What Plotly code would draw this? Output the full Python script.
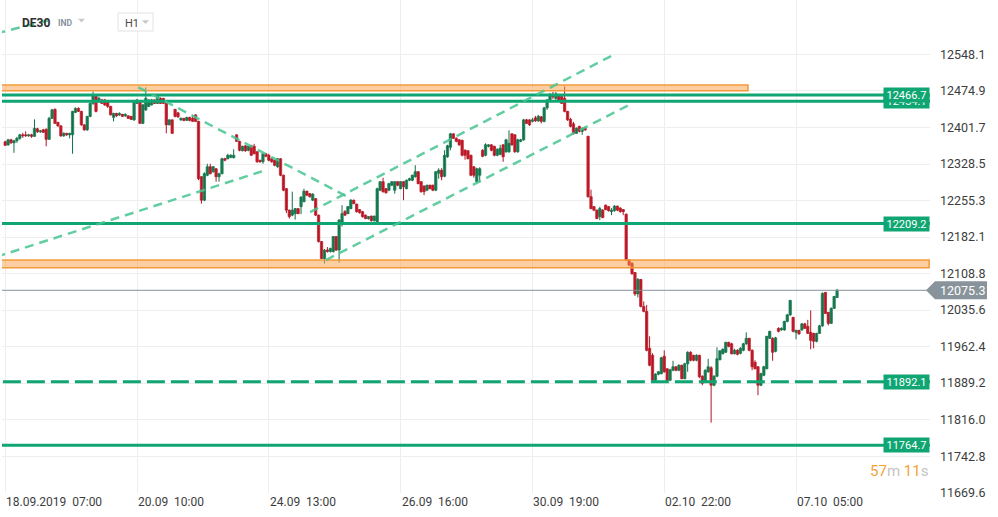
import plotly.graph_objects as go

# ---------------- data (hourly DE30 candles) ----------------
opens = [
12373,12367,12377,12371,12375,12380,12387,12387,12385,12387,
12384,12399,12393,12397,12398,12378,12420,12438,12412,12405,
12385,12390,12387,12387,12432,12440,12434,12407,12397,12424,
12450,12465,12454,12457,12457,12454,12444,12422,12430,12427,
12428,12425,12425,12424,12417,12450,12454,12410,12437,12444,
12447,12457,12450,12460,12460,12450,12407,12417,12438,12431,
12417,12420,12416,12422,12420,12427,12414,12303,12256,12306,
12323,12313,12319,12303,12309,12339,12339,12342,12341,12387,
12374,12355,12365,12356,12365,12364,12353,12336,12333,12349,
12346,12339,12336,12323,12339,12306,12279,12236,12226,12229,
12239,12243,12253,12274,12269,12256,12259,12226,12173,12139,
12156,12153,12153,12183,12156,12212,12233,12229,12239,12256,
12248,12237,12233,12226,12219,12224,12215,12213,12276,12293,
12279,12276,12286,12276,12293,12279,12293,12279,12296,12296,
12303,12313,12293,12284,12276,12286,12286,12276,12310,12316,
12304,12343,12362,12389,12380,12377,12376,12356,12355,12346,
12323,12293,12306,12356,12346,12364,12367,12364,12346,12348,
12367,12353,12353,12389,12387,12353,12374,12377,12417,12417,
12414,12421,12415,12423,12414,12441,12457,12467,12460,12467,
12464,12460,12434,12418,12409,12390,12404,12394,12400,12384,
12263,12243,12236,12223,12236,12246,12243,12233,12235,12244,
12240,12237,12228,12136,12129,12111,12068,12097,12043,12033,
11959,11945,11895,11907,11908,11943,11918,11895,11915,11922,
11915,11925,11898,11928,11951,11945,11935,11945,11903,11892,
11912,11920,11885,11903,11936,11948,11951,11971,11968,11948,
11955,11949,11955,11968,11979,11955,11931,11922,11885,11905,
11918,11979,11979,11953,11999,11996,11996,12013,12026,12021,
11991,11995,11996,12008,12003,11991,11989,11973,11989,12004,
12071,12031,12009,12039,12061]

highs = [
12375,12379,12379,12377,12383,12389,12391,12394,12389,12389,
12418,12401,12397,12399,12400,12423,12439,12440,12413,12406,
12392,12391,12391,12435,12442,12442,12435,12408,12425,12452,
12474,12466,12463,12459,12459,12455,12445,12431,12431,12432,
12429,12430,12426,12425,12455,12459,12455,12449,12482,12458,
12459,12458,12466,12462,12461,12451,12418,12418,12439,12433,
12422,12421,12423,12423,12426,12428,12415,12304,12312,12329,
12329,12324,12320,12311,12341,12341,12349,12348,12358,12388,
12375,12365,12366,12365,12367,12369,12354,12337,12350,12350,
12349,12340,12337,12340,12340,12307,12280,12237,12273,12240,
12240,12264,12279,12275,12270,12270,12260,12227,12174,12158,
12162,12161,12184,12184,12218,12246,12236,12244,12258,12257,
12249,12238,12234,12227,12224,12225,12225,12281,12294,12301,
12280,12291,12294,12294,12294,12294,12294,12297,12301,12307,
12326,12314,12294,12286,12287,12287,12287,12314,12320,12320,
12356,12367,12391,12390,12382,12378,12377,12358,12356,12347,
12324,12321,12322,12358,12370,12368,12368,12365,12360,12367,
12368,12379,12396,12390,12388,12379,12379,12419,12419,12418,
12421,12425,12427,12425,12443,12459,12471,12473,12473,12469,
12467,12484,12435,12421,12413,12402,12405,12402,12403,12385,
12277,12244,12237,12243,12238,12247,12244,12240,12246,12245,
12242,12238,12229,12138,12132,12112,12100,12098,12053,12046,
11983,11949,11909,11913,11942,11955,11919,11918,11934,11923,
11927,11926,11930,11953,11953,11946,11947,11946,11905,11917,
11938,11923,11905,11961,11955,11959,11972,11972,11970,11958,
11957,11961,11970,11991,11980,11957,11935,11923,11910,11924,
11984,11994,11981,11982,12001,12001,12014,12028,12056,12022,
11996,11996,12010,12010,12016,12035,11990,11990,12006,12071,
12072,12032,12041,12064,12078]

lows = [
12365,12365,12369,12351,12371,12377,12381,12383,12383,12381,
12383,12391,12391,12391,12364,12377,12419,12409,12403,12383,
12383,12385,12380,12349,12431,12433,12405,12395,12395,12422,
12447,12432,12451,12449,12445,12441,12426,12414,12423,12425,
12423,12423,12419,12417,12415,12449,12409,12409,12435,12443,
12446,12449,12449,12449,12449,12390,12406,12389,12422,12421,
12415,12414,12415,12414,12413,12413,12296,12249,12254,12304,
12308,12311,12293,12293,12308,12334,12338,12340,12340,12373,
12354,12354,12353,12354,12345,12348,12331,12331,12329,12342,
12334,12331,12324,12321,12304,12274,12230,12219,12224,12217,
12228,12228,12252,12264,12261,12254,12224,12171,12138,12129,
12151,12151,12151,12154,12131,12203,12224,12228,12238,12248,
12231,12229,12221,12218,12217,12213,12213,12211,12274,12271,
12269,12274,12284,12269,12284,12278,12256,12278,12294,12294,
12301,12288,12271,12266,12274,12278,12274,12274,12299,12296,
12302,12341,12356,12379,12372,12365,12344,12337,12338,12304,
12301,12291,12292,12342,12344,12362,12354,12344,12344,12346,
12333,12351,12351,12365,12351,12351,12372,12375,12409,12405,
12412,12413,12413,12410,12412,12437,12455,12459,12457,12455,
12449,12432,12415,12402,12387,12389,12392,12387,12395,12261,
12238,12234,12218,12216,12220,12236,12233,12226,12233,12234,
12231,12226,12134,12124,12106,12064,12061,12041,12031,11953,
11923,11893,11893,11905,11907,11910,11892,11893,11913,11913,
11913,11897,11897,11912,11933,11933,11933,11899,11885,11890,
11910,11810,11883,11901,11935,11947,11950,11961,11947,11947,
11945,11947,11953,11966,11953,11915,11917,11865,11883,11903,
11917,11978,11934,11951,11991,11994,11994,12011,12024,11991,
11977,11986,11994,11998,11988,11957,11959,11971,11988,12002,
12028,12005,12008,12038,12060]

closes = [
12366,12377,12371,12375,12380,12387,12385,12385,12387,12384,
12400,12393,12395,12392,12378,12420,12437,12410,12405,12385,
12390,12387,12390,12434,12440,12434,12407,12397,12424,12450,
12465,12434,12460,12450,12447,12444,12427,12430,12425,12430,
12424,12428,12420,12418,12454,12457,12410,12447,12460,12457,
12457,12450,12465,12450,12450,12407,12417,12390,12424,12423,
12420,12416,12422,12416,12414,12414,12299,12256,12309,12323,
12309,12323,12303,12309,12339,12336,12346,12346,12346,12374,
12356,12364,12355,12364,12346,12349,12333,12333,12349,12344,
12336,12333,12326,12339,12306,12276,12236,12223,12236,12239,
12229,12262,12274,12266,12263,12268,12226,12173,12139,12156,
12153,12159,12183,12156,12216,12229,12226,12243,12256,12249,
12233,12231,12223,12219,12223,12215,12224,12279,12293,12273,
12271,12289,12293,12293,12286,12293,12283,12296,12299,12306,
12313,12289,12273,12273,12286,12279,12276,12313,12316,12303,
12346,12365,12389,12380,12374,12367,12346,12346,12339,12306,
12306,12319,12319,12344,12367,12367,12356,12346,12358,12360,
12343,12377,12370,12367,12353,12377,12377,12417,12410,12407,
12417,12415,12424,12414,12441,12457,12467,12463,12469,12457,
12450,12434,12417,12404,12390,12400,12394,12400,12397,12263,
12239,12236,12219,12239,12221,12237,12235,12236,12244,12236,
12233,12233,12136,12126,12109,12068,12097,12043,12033,11955,
11925,11895,11907,11912,11940,11912,11894,11916,11922,11915,
11925,11898,11928,11951,11935,11935,11945,11902,11889,11915,
11922,11885,11903,11938,11954,11957,11971,11963,11948,11955,
11947,11959,11968,11979,11955,11922,11918,11885,11908,11922,
11983,11993,11951,11980,11993,11999,12013,12026,12055,11993,
11995,11988,12008,11999,11989,11975,11973,11989,12004,12069,
12029,12009,12039,12063,12075.3]

x_tick_pos = [0, 45, 90, 135, 180, 225, 270]
x_tick_labels = ["18.09.2019", "20.09", "24.09", "26.09", "30.09", "02.10", "07.10"]
x_tick_times = ["07:00", "10:00", "13:00", "16:00", "19:00", "22:00", "05:00"]
y_tick_vals = [12548.1, 12474.9, 12401.7, 12328.5, 12255.3, 12182.1, 12108.8,
               12035.6, 11962.4, 11889.2, 11816.0, 11742.8, 11669.6]

solid_levels = [12454.1, 12466.7, 12209.2, 11764.7]
dashed_levels = [11892.1]
zone_upper = [12475.5, 12487.0]
zone_upper_end = 253.6
zone_lower = [12120.6, 12136.0]
last_price = 12075.3

trend_lines = [
    [(45.44, 12482.3), (116.7, 12263.3)],
    [(-3.0, 12142.4), (88.0, 12314.4)],
    [(104.1, 12232.2), (208.2, 12549.0)],
    [(109.5, 12136.0), (214.3, 12450.8)],
    [(-3.0, 12590.3), (14.6, 12616.2)],
]

# ---------------- figure ----------------
W, H = 998, 517
ML, MR, MT, MB = 2, 68, 0, 24
PW, PH = W - ML - MR, H - MT - MB
X_RANGE = [-1.09, 315.73]
Y_RANGE = [11668.9, 12657.3]

GREEN = "#10a673"
UP_FILL, UP_LINE = "#1f9262", "#126f47"
DN_FILL, DN_LINE = "#dc2433", "#b01523"
FONT = "Roboto"


def pxx(px):
    return (px - ML) / PW


def pxy(py):
    return (MT + PH - py) / PH


n = len(closes)
x_idx = list(range(n))
is_up = [c >= o for o, c in zip(opens, closes)]

fig = go.Figure()

# wicks
for up_flag, col in [(True, UP_LINE), (False, DN_LINE)]:
    wx, wy = [], []
    for i in range(n):
        if is_up[i] == up_flag:
            wx += [i, i, None]
            wy += [lows[i], highs[i], None]
    fig.add_trace(go.Scatter(x=wx, y=wy, mode="lines", line=dict(color=col, width=1),
                             hoverinfo="skip", showlegend=False))

# bodies
body_base = [min(o, c) for o, c in zip(opens, closes)]
body_len = [max(abs(c - o), 1.6) for o, c in zip(opens, closes)]
fig.add_trace(go.Bar(
    x=x_idx, y=body_len, base=body_base, width=0.8,
    marker=dict(color=[UP_FILL if u else DN_FILL for u in is_up],
                line=dict(color=[UP_LINE if u else DN_LINE for u in is_up], width=0.7)),
    hoverinfo="skip", showlegend=False,
))

shapes = []
# orange zones
shapes.append(dict(type="rect", xref="x", yref="y", x0=-5, x1=zone_upper_end,
                   y0=zone_upper[0], y1=zone_upper[1],
                   fillcolor="rgba(250,158,68,0.5)", line=dict(color="#f39a3a", width=1.5),
                   layer="above"))
shapes.append(dict(type="rect", xref="x", yref="y", x0=-5, x1=X_RANGE[1] - 0.3,
                   y0=zone_lower[0], y1=zone_lower[1],
                   fillcolor="rgba(250,158,68,0.5)", line=dict(color="#f39a3a", width=1.5),
                   layer="above"))
# price line
shapes.append(dict(type="line", xref="x", yref="y", x0=-5, x1=X_RANGE[1] + 1,
                   y0=last_price, y1=last_price, line=dict(color="#87919a", width=1),
                   layer="above"))
# support / resistance levels
for v in solid_levels:
    shapes.append(dict(type="line", xref="x", yref="y", x0=-5, x1=X_RANGE[1] + 1,
                       y0=v, y1=v, line=dict(color=GREEN, width=3), layer="above"))
for v in dashed_levels:
    shapes.append(dict(type="line", xref="x", yref="y", x0=X_RANGE[0] + 0.3, x1=X_RANGE[1] + 1,
                       y0=v, y1=v, line=dict(color=GREEN, width=3, dash="18px,6px"),
                       layer="above"))
# trend lines
for (a, b) in trend_lines:
    shapes.append(dict(type="line", xref="x", yref="y", x0=a[0], y0=a[1], x1=b[0], y1=b[1],
                       line=dict(color="rgba(72,196,146,0.85)", width=2.5, dash="9px,6px"),
                       layer="above"))

# price tag (pentagon)
tag = [(926, 290.3), (935, 281.3), (987, 281.3), (987, 299.3), (935, 299.3)]
path = "M " + " L ".join(f"{pxx(px):.5f},{pxy(py):.5f}" for px, py in tag) + " Z"
shapes.append(dict(type="path", xref="paper", yref="paper", path=path,
                   fillcolor="#89939b", line=dict(width=0), layer="above"))

# header widgets
shapes.append(dict(type="rect", xref="paper", yref="paper",
                   x0=pxx(118), x1=pxx(153), y0=pxy(31), y1=pxy(13),
                   fillcolor="white", line=dict(color="#e2e2e2", width=1), layer="above"))
for (cx, cy) in [(81.5, 20.5), (145.5, 22)]:
    tri = [(cx - 3.5, cy - 1.7), (cx + 3.5, cy - 1.7), (cx, cy + 2)]
    p = "M " + " L ".join(f"{pxx(a):.5f},{pxy(b):.5f}" for a, b in tri) + " Z"
    shapes.append(dict(type="path", xref="paper", yref="paper", path=p,
                       fillcolor="#c5cad0", line=dict(width=0), layer="above"))

annotations = []
# level labels (lower one first so the upper one covers it)
for v in solid_levels + dashed_levels:
    annotations.append(dict(xref="paper", yref="y", x=1, y=v, xanchor="right", yanchor="middle",
                            text=f"{v:.1f}", showarrow=False, bgcolor=GREEN,
                            font=dict(family=FONT, size=11, color="white"),
                            width=43, height=12, borderpad=1))
annotations.append(dict(xref="paper", yref="y", x=pxx(962), y=last_price, xanchor="center",
                        yanchor="middle", text=f"{last_price:.1f}", showarrow=False,
                        font=dict(family=FONT, size=12.5, color="white")))
# x labels (left-aligned at their grid line)
for pos, d, t in zip(x_tick_pos, x_tick_labels, x_tick_times):
    annotations.append(dict(xref="x", yref="paper", x=pos, y=0, xanchor="left", yanchor="top",
                            xshift=-1, text=d + "\u00a0\u00a0" + t, showarrow=False,
                            font=dict(family=FONT, size=12, color="#3d3d3d")))
# header texts
annotations.append(dict(xref="paper", yref="paper", x=pxx(20), y=pxy(23), xanchor="left",
                        yanchor="middle", text="<b>DE30</b>", showarrow=False,
                        font=dict(family=FONT, size=12, color="#2e2e2e")))
annotations.append(dict(xref="paper", yref="paper", x=pxx(56), y=pxy(23.5), xanchor="left",
                        yanchor="middle", text="<b>IND</b>", showarrow=False,
                        font=dict(family=FONT, size=8.5, color="#8794a0")))
annotations.append(dict(xref="paper", yref="paper", x=pxx(123), y=pxy(23), xanchor="left",
                        yanchor="middle", text="H1", showarrow=False,
                        font=dict(family=FONT, size=11, color="#4a4a4a")))
# countdown
annotations.append(dict(xref="paper", yref="paper", x=1, y=pxy(471), xanchor="right",
                        yanchor="middle", showarrow=False,
                        text="<span style='color:#f5a234'>57</span><span style='color:#c4c4c4'>m</span> "
                             "<span style='color:#f5a234'>11</span><span style='color:#c4c4c4'>s</span>",
                        font=dict(family=FONT, size=15)))

fig.update_layout(
    width=W, height=H, autosize=False,
    margin=dict(l=ML, r=MR, t=MT, b=MB, pad=0),
    paper_bgcolor="white", plot_bgcolor="white",
    showlegend=False, hovermode=False, barmode="overlay", bargap=0,
    shapes=shapes, annotations=annotations,
    xaxis=dict(range=X_RANGE, tickvals=x_tick_pos, showticklabels=False, showgrid=True,
               gridcolor="#eeeeee", gridwidth=1, zeroline=False, showline=False, ticks="",
               fixedrange=True),
    yaxis=dict(range=Y_RANGE, side="right", tickvals=y_tick_vals,
               ticktext=[f"{v:.1f}" for v in y_tick_vals], showgrid=True,
               gridcolor="#eeeeee", gridwidth=1, zeroline=False, showline=False, ticks="",
               ticklabelstandoff=9, tickfont=dict(family=FONT, size=12.5, color="#3d3d3d"),
               fixedrange=True),
)

fig.write_html(
    "out.html",
    config={"displayModeBar": False, "staticPlot": True},
    post_script="document.body.style.margin='0px';document.body.style.overflow='hidden';",
)
